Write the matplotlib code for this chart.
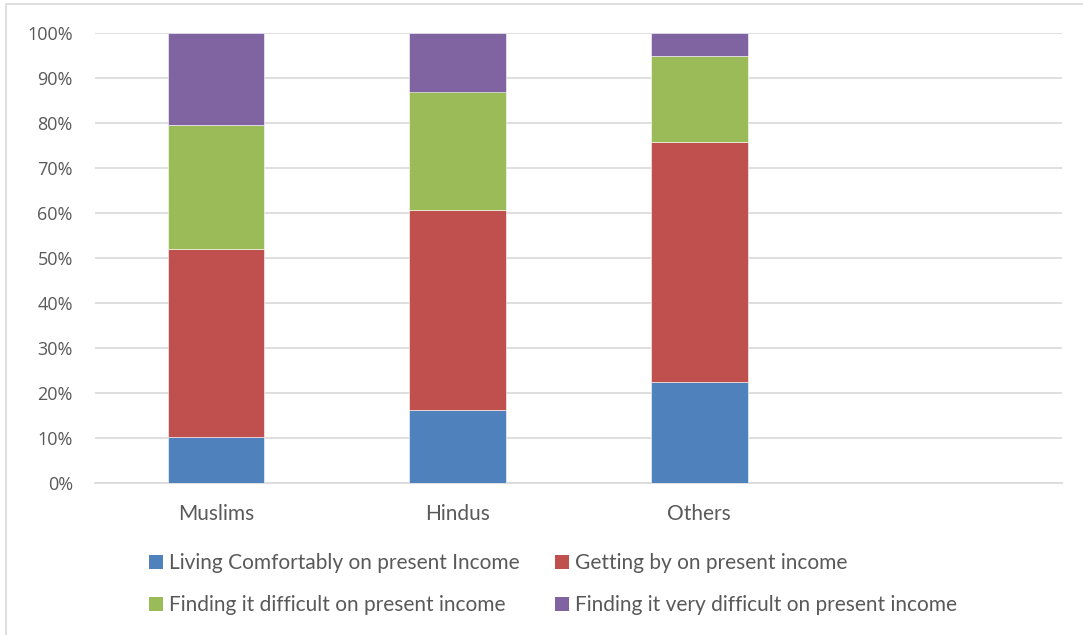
import matplotlib
matplotlib.use("Agg")
import matplotlib.pyplot as plt
from matplotlib.patches import Rectangle, Patch
from matplotlib.ticker import FuncFormatter, MultipleLocator

# Share of respondents by income situation, per religious group (%)
categories = ["Muslims", "Hindus", "Others", ""]
living_comfortably = [10.2, 16.3, 22.4, 0]
getting_by = [41.9, 44.3, 53.4, 0]
finding_difficult = [27.5, 26.4, 19.2, 0]
finding_very_difficult = [20.4, 13.0, 5.0, 0]

series_labels = [
    "Living Comfortably on present Income",
    "Getting by on present income",
    "Finding it difficult on present income",
    "Finding it very difficult on present income",
]
series_colors = ["#4f81bd", "#c0504d", "#9bbb59", "#8064a2"]
series_values = [living_comfortably, getting_by, finding_difficult, finding_very_difficult]

plt.rcParams["font.family"] = ["Lato", "DejaVu Sans"]
TEXT = "#595959"

W, H = 1083, 635
fig = plt.figure(figsize=(W / 100, H / 100), dpi=100)
fig.patch.set_facecolor("white")

# outer chart-area frame
fig.patches.append(Rectangle((6 / W, -0.05), 1.2, (H - 4) / H + 0.05,
                             transform=fig.transFigure, fill=False,
                             edgecolor="#d9d9d9", linewidth=1.2))

left, right, top, bottom = 95, 1062, 33, 483
ax = fig.add_axes([left / W, 1 - bottom / H, (right - left) / W, (bottom - top) / H])

x = list(range(len(categories)))
base = [0] * len(categories)
for vals, color, label in zip(series_values, series_colors, series_labels):
    ax.bar(x, vals, width=0.4, bottom=base, color=color, label=label,
           edgecolor="white", linewidth=0.4, zorder=3)
    base = [b + v for b, v in zip(base, vals)]

ax.set_xlim(-0.5, len(categories) - 0.5)
ax.set_ylim(0, 100)
ax.yaxis.set_major_locator(MultipleLocator(10))
ax.yaxis.set_major_formatter(FuncFormatter(lambda v, _: f"{v:.0f}%"))
ax.grid(axis="y", color="#d9d9d9", linewidth=1.2, zorder=0)
ax.set_axisbelow(True)
for s in ["top", "right", "left"]:
    ax.spines[s].set_visible(False)
ax.spines["bottom"].set_color("#d9d9d9")
ax.spines["bottom"].set_linewidth(1.2)

ax.set_xticks(x)
ax.set_xticklabels(categories)
ax.tick_params(axis="both", length=0, labelcolor=TEXT)
ax.tick_params(axis="x", pad=15, labelsize=15)
ax.tick_params(axis="y", pad=16, labelsize=13, labelfontfamily="Open Sans")

handles = [Patch(facecolor=c, label=l) for c, l in zip(series_colors, series_labels)]
order = [0, 2, 1, 3]
leg = fig.legend([handles[i] for i in order], [series_labels[i] for i in order],
                 ncol=2, loc="center", bbox_to_anchor=(553 / W, 1 - 584 / H),
                 frameon=False, fontsize=15, handlelength=0.65, handleheight=0.65,
                 handletextpad=0.3, columnspacing=1.7, labelspacing=1.05)
for t in leg.get_texts():
    t.set_color(TEXT)

fig.savefig("out.png", dpi=100, facecolor="white")
